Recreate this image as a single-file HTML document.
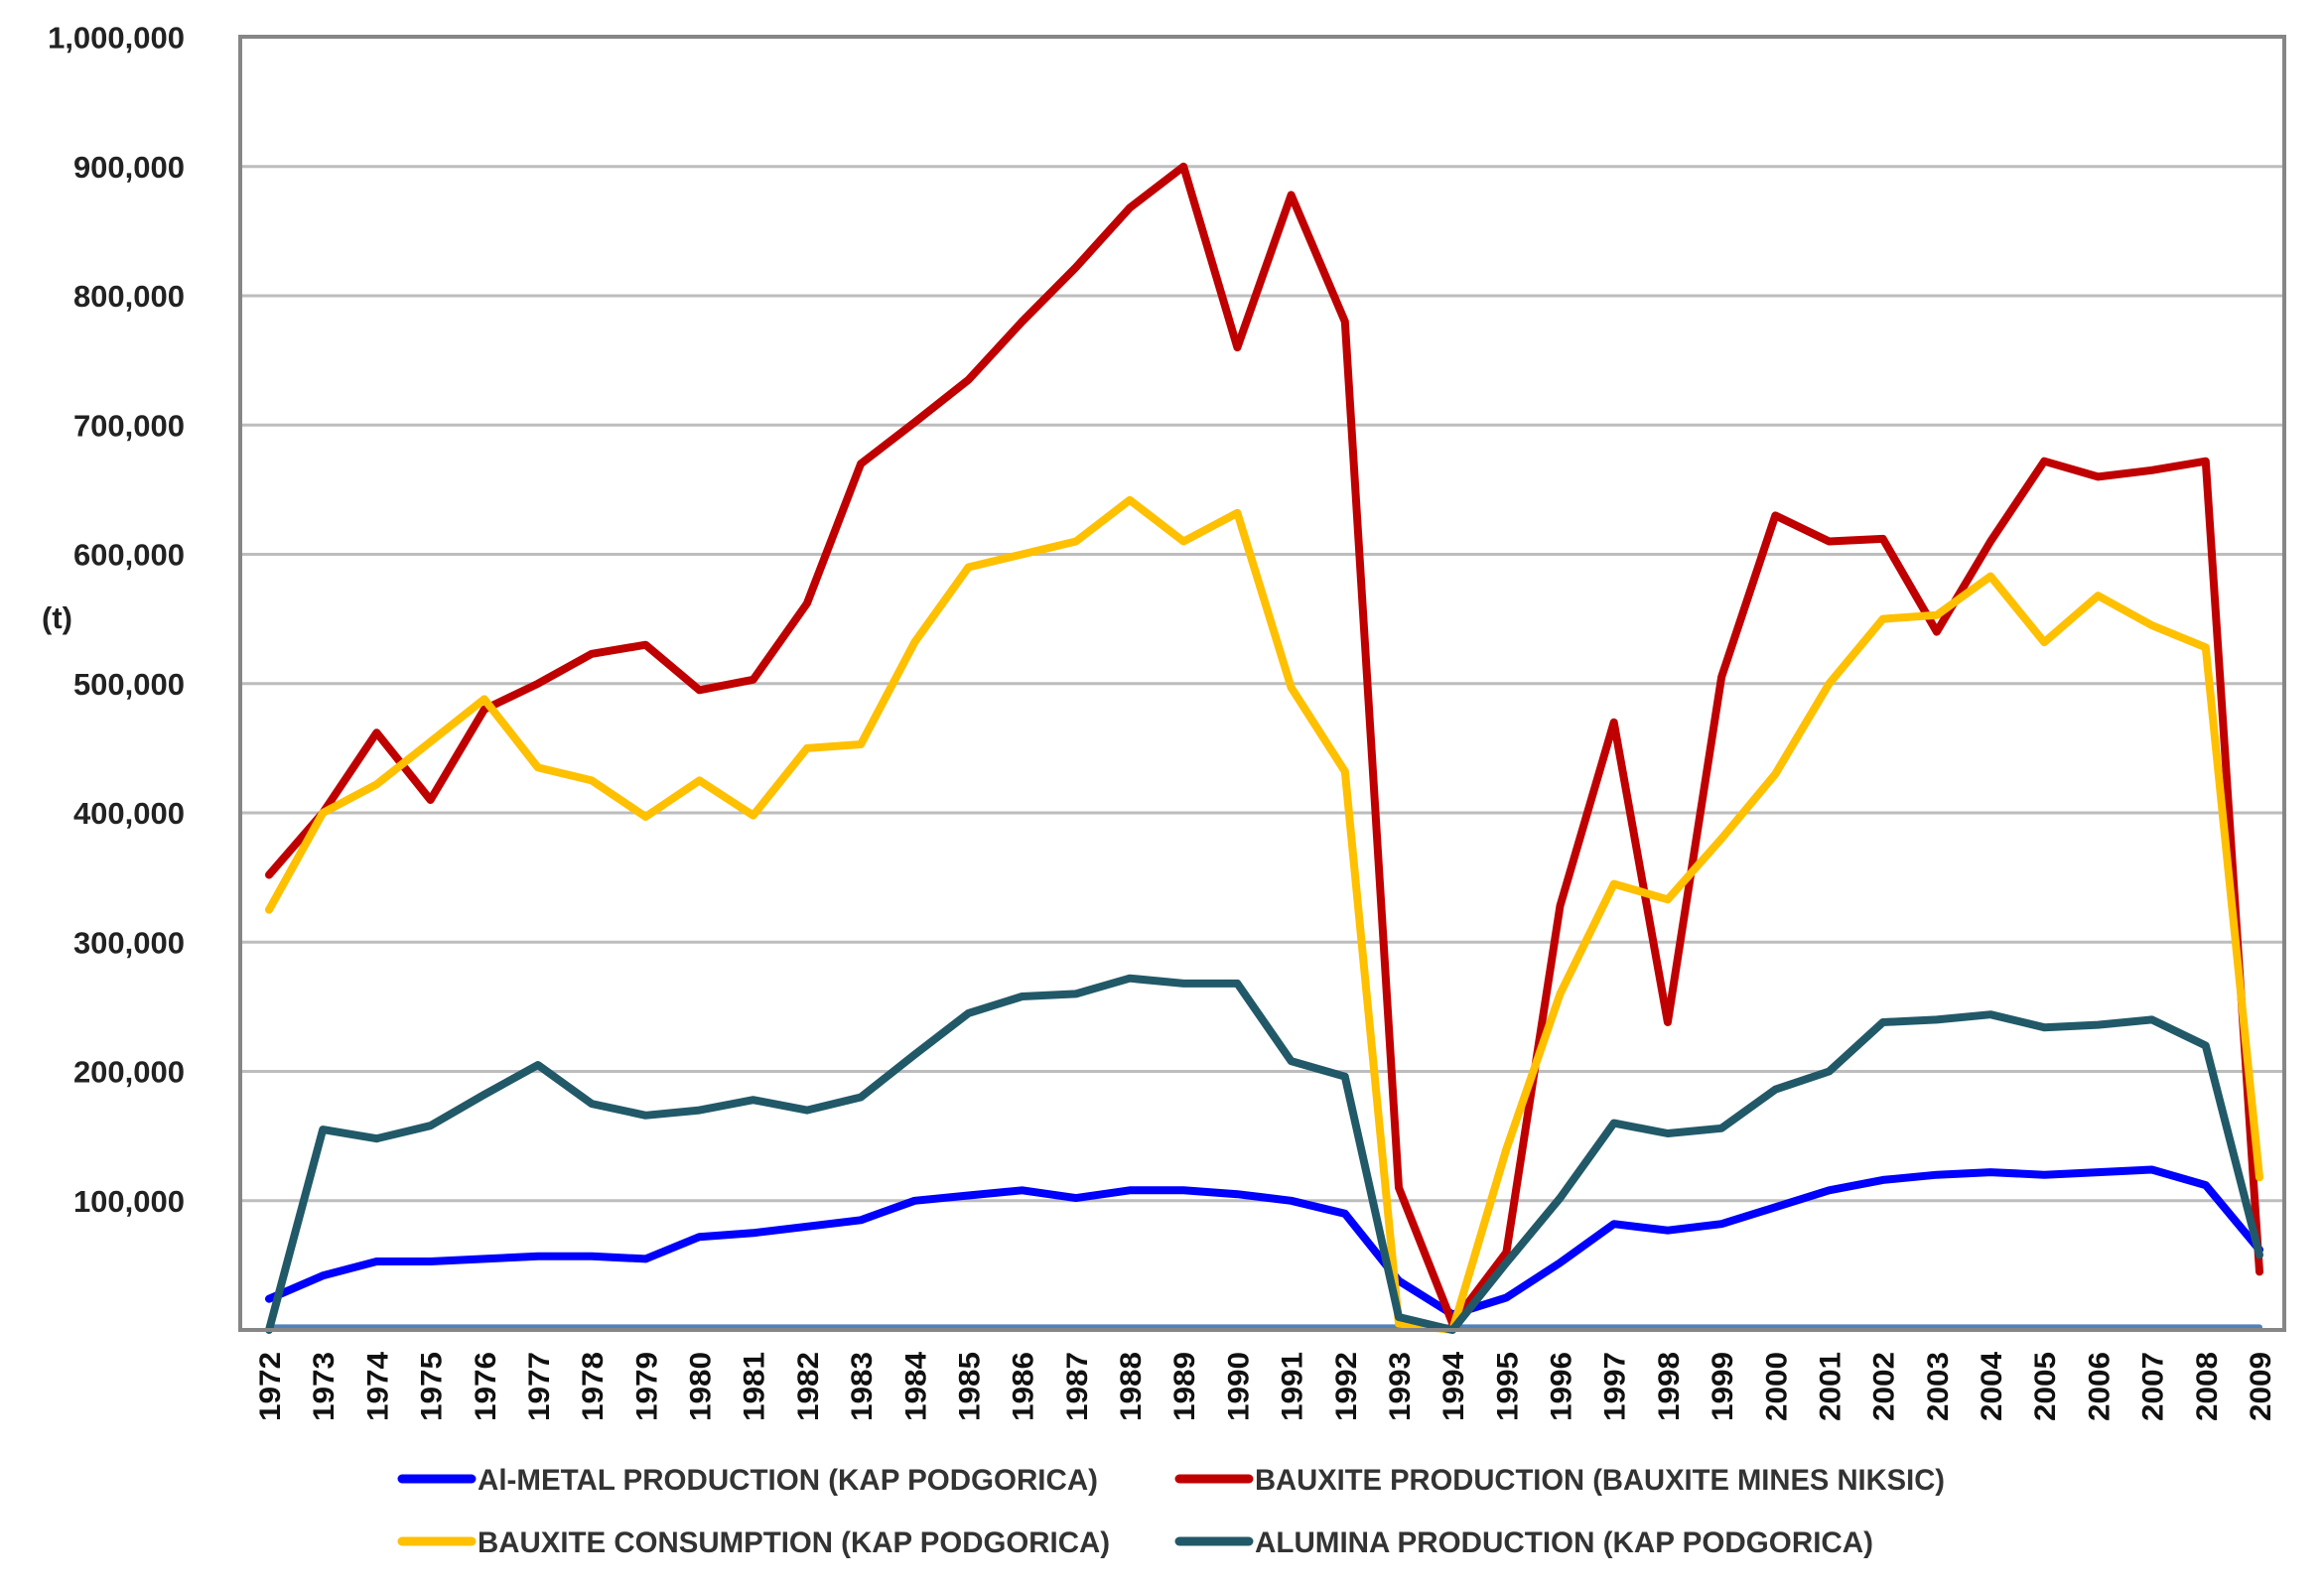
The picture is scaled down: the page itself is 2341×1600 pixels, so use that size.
<!DOCTYPE html>
<html><head><meta charset="utf-8"><style>
html,body{margin:0;padding:0;background:#fff;}
svg{display:block;font-family:"Liberation Sans",sans-serif;font-weight:bold;}
</style></head><body>
<svg id="chart" width="2341" height="1600" viewBox="0 0 2341 1600" xmlns="http://www.w3.org/2000/svg">
<rect x="0" y="0" width="2341" height="1600" fill="#fff"/>
<g id="grid"></g>
<g id="yticks"></g>
<g id="xticks"></g>
<g id="series"></g>
<rect x="242" y="37" width="2059" height="1303" fill="none" stroke="#868686" stroke-width="4"/>
<text x="42" y="633" font-size="31" fill="#222">(t)</text>
<g id="legend"></g>
</svg>
<script>
const years = [1972,1973,1974,1975,1976,1977,1978,1979,1980,1981,1982,1983,1984,1985,1986,1987,1988,1989,1990,1991,1992,1993,1994,1995,1996,1997,1998,1999,2000,2001,2002,2003,2004,2005,2006,2007,2008,2009];
const alMetal = [24,42,53,53,55,57,57,55,72,75,80,85,100,104,108,102,108,108,105,100,90,38,12,25,52,82,77,82,95,108,116,120,122,120,122,124,112,62];
const bauxiteProd = [352,400,462,410,480,500,523,530,495,503,562,670,702,735,780,822,868,900,760,878,780,110,5,60,328,470,238,505,630,610,612,540,610,672,660,665,672,45];
const bauxiteCons = [325,400,422,455,488,435,425,397,425,398,450,453,532,590,600,610,642,610,632,497,432,5,0,140,260,345,333,380,430,500,550,553,583,532,568,545,528,118];
const alumina = [0,155,148,158,182,205,175,166,170,178,170,180,213,245,258,260,272,268,268,208,196,10,0,52,102,160,152,156,186,200,238,240,244,234,236,240,220,58];
const baseline = [0,0,0,0,0,0,0,0,0,0,0,0,0,0,0,0,0,0,0,0,0,0,0,0,0,0,0,0,0,0,0,0,0,0,0,0,0,0];
const yTicks = [100,200,300,400,500,600,700,800,900,1000];
const legendLabels = ["Al-METAL PRODUCTION (KAP PODGORICA)","BAUXITE PRODUCTION (BAUXITE MINES NIKSIC)","BAUXITE CONSUMPTION (KAP PODGORICA)","ALUMINA PRODUCTION (KAP PODGORICA)"];

const NS="http://www.w3.org/2000/svg";
const x0=271, x1=2276, y0=1340, yTop=37.5;
function xs(i){return x0+(x1-x0)*i/(years.length-1);}
function ys(v){return y0-(y0-yTop)*v/1000;}
function mk(tag,attrs,parent){const e=document.createElementNS(NS,tag);for(const k in attrs)e.setAttribute(k,attrs[k]);parent.appendChild(e);return e;}

const grid=document.getElementById('grid'), yt=document.getElementById('yticks'), xt=document.getElementById('xticks');
yTicks.forEach(v=>{
  const l=mk('line',{x1:242,x2:2301,y1:ys(v),y2:ys(v),stroke:'#bdbdbd','stroke-width':3},grid);
  
  
  const t=mk('text',{x:186,y:ys(v)+11,'text-anchor':'end','font-size':31,fill:'#222'},yt);
  t.textContent=(v*1000).toLocaleString('en-US');
  
  
});
years.forEach((yr,i)=>{
  const t=mk('text',{transform:`translate(${xs(i)+11},1432) rotate(-90)`,'font-size':30,fill:'#111',textLength:70,lengthAdjust:'spacingAndGlyphs'},xt);
  t.textContent=yr;
  
  
});
const sg=document.getElementById('series');
function drawLine(data,color,name,w){
  const pts=data.map((v,i)=>xs(i).toFixed(1)+','+ys(v).toFixed(1)).join(' ');
  const p=mk('polyline',{points:pts,fill:'none',stroke:color,'stroke-width':w,'stroke-linejoin':'round','stroke-linecap':'round'},sg);
  
  
}
drawLine(baseline.map(v=>v+2),'#4f81bd','series-baseline',6);
drawLine(alMetal,'#0000ff','series-al-metal',8);
drawLine(bauxiteProd,'#c00000','series-bauxite-production',8);
drawLine(bauxiteCons,'#ffc000','series-bauxite-consumption',8);
drawLine(alumina,'#215968','series-alumina',8);

const lg=document.getElementById('legend');
const legColors=['#0000ff','#c00000','#ffc000','#215968'];
const legPos=[[405,1490,625],[1188,1490,695],[405,1553,637],[1188,1553,623]];
legendLabels.forEach((lab,i)=>{
  const [lx,ly,tw]=legPos[i];
  const l=mk('line',{x1:lx,x2:lx+70,y1:ly,y2:ly,stroke:legColors[i],'stroke-width':9,'stroke-linecap':'round'},lg);
  
  
  const t=mk('text',{x:lx+76,y:ly+11,'font-size':30,fill:'#333',textLength:tw,lengthAdjust:'spacingAndGlyphs'},lg);
  t.textContent=lab;
  
  
});
</script>
</body></html>
